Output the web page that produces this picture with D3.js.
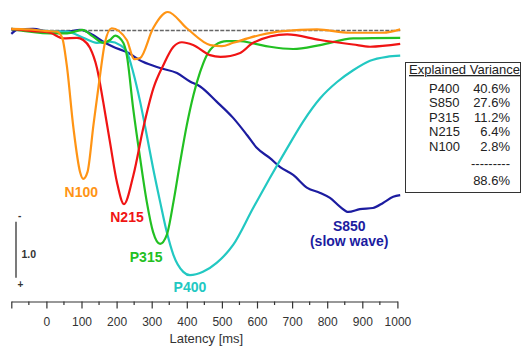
<!DOCTYPE html>
<html>
<head>
<meta charset="utf-8">
<script src="https://cdn.jsdelivr.net/npm/d3@7/dist/d3.min.js"></script>
<style>
  body { margin: 0; background: #fff; }
  svg { display: block; font-family: Arial, "Liberation Sans", sans-serif; }
</style>
</head>
<body>
<div id="chart"></div>
<script>
// component waveforms, [latency ms, amplitude] (positive plotted downward)
const n100 = [[-100,-0.03],[-50,-0.02],[0,0.01],[30,0.02],[45,0.13],[58,0.62],[77,1.74],[96,2.53],[105,2.65],[117,2.53],[134,1.69],[153,0.79],[167,0.21],[186,-0.04],[229,0.17],[250,0.51],[267,0.49],[304,-0.04],[346,-0.33],[400,-0.04],[467,0.26],[500,0.28],[532,0.22],[609,0.08],[674,0.01],[771,-0.02],[865,0.04],[959,0.04],[1008,-0.02]];
const n215 = [[-100,-0.03],[-38,0.01],[10,0.04],[48,0.14],[87,0.13],[105,0.17],[124,0.31],[144,0.67],[162,1.28],[181,1.99],[201,2.71],[221,3.10],[248,2.58],[276,1.74],[305,1.03],[333,0.62],[362,0.29],[386,0.21],[418,0.26],[466,0.44],[496,0.47],[552,0.40],[589,0.22],[686,0.07],[780,0.17],[874,0.25],[922,0.29],[1008,0.24]];
const p315 = [[-100,-0.03],[10,0.05],[59,0.05],[102,-0.01],[133,0.11],[162,0.22],[181,0.17],[196,0.09],[219,0.22],[229,0.44],[247,1.38],[267,2.28],[286,3.06],[304,3.60],[324,3.81],[343,3.65],[362,3.06],[381,2.35],[400,1.69],[419,1.15],[438,0.74],[457,0.44],[481,0.26],[514,0.19],[552,0.19],[589,0.23],[637,0.29],[703,0.33],[780,0.26],[874,0.14],[1008,0.13]];
const p400 = [[-100,-0.03],[10,0.01],[59,0.02],[105,0.13],[144,0.22],[181,0.20],[210,0.26],[229,0.38],[247,0.74],[267,1.27],[286,1.87],[304,2.46],[324,3.06],[343,3.60],[362,4.01],[390,4.31],[409,4.37],[446,4.31],[485,4.15],[532,3.83],[589,3.17],[637,2.63],[686,2.10],[731,1.63],[780,1.21],[828,0.92],[874,0.71],[922,0.54],[970,0.47],[1008,0.45]];
const s850 = [[-100,0.06],[-83,-0.01],[-38,-0.03],[10,0.02],[59,0.02],[96,-0.01],[133,0.08],[162,0.20],[190,0.29],[230,0.39],[275,0.56],[324,0.67],[372,0.76],[409,0.91],[438,1.00],[485,1.27],[532,1.56],[572,1.87],[600,2.10],[637,2.28],[666,2.44],[703,2.58],[743,2.81],[780,2.90],[808,2.99],[837,3.15],[860,3.24],[893,3.19],[930,3.17],[959,3.08],[988,2.97],[1008,2.94]];

const legendNames = ["P400", "S850", "P315", "N215", "N100"];
const legendValues = ["40.6%", "27.6%", "11.2%", "6.4%", "2.8%"];
const legendTotal = "88.6%";
const majorTicks = [-100, 0, 100, 200, 300, 400, 500, 600, 700, 800, 900, 1000];
const minorTicks = [-50, 50, 150, 250, 350, 450, 550, 650, 750, 850, 950];

const width = 522, height = 349;

const svg = d3.select("#chart")
  .append("svg")
  .attr("width", width)
  .attr("height", height);

const x = d3.scaleLinear().domain([-100, 1000]).range([11.3, 397.4]);
const y = d3.scaleLinear().domain([0, 1]).range([30.5, 86.5]);

// zero line
svg.append("line")
  .attr("x1", x(-100)).attr("x2", x(1008))
  .attr("y1", y(0)).attr("y2", y(0))
  .attr("stroke", "#666")
  .attr("stroke-width", 1.3)
  .attr("stroke-dasharray", "4,1.5");

const series = [
  { data: s850, color: "#1c1ca0", label: ["S850", "(slow wave)"], dx: 1, dy: 19 },
  { data: p400, color: "#22c8c2", label: ["P400"], dx: 0, dy: 17 },
  { data: p315, color: "#22c022", label: ["P315"], dx: -14, dy: 18 },
  { data: n215, color: "#f01414", label: ["N215"], dx: 3, dy: 18 },
  { data: n100, color: "#ff9414", label: ["N100"], dx: -2, dy: 18 }
];

const line = d3.line()
  .x(d => x(d[0]))
  .y(d => y(d[1]))
  .curve(d3.curveMonotoneX);

series.forEach(s => {
  svg.append("path")
    .attr("d", line(s.data))
    .attr("fill", "none")
    .attr("stroke", s.color)
    .attr("stroke-width", 2.2)
    .attr("stroke-linejoin", "round");

  // label sits under the trough of each component
  const peak = d3.greatest(s.data, d => d[1]);
  s.label.forEach((t, i) => {
    svg.append("text")
      .attr("x", x(peak[0]) + s.dx)
      .attr("y", y(peak[1]) + s.dy + i * 15)
      .attr("text-anchor", "middle")
      .attr("font-size", 14)
      .attr("font-weight", "bold")
      .attr("fill", s.color)
      .text(t);
  });
});

// x axis
const axisY = 301.5;
const axis = svg.append("g")
  .attr("transform", "translate(0," + axisY + ")")
  .call(d3.axisBottom(x)
    .tickValues(majorTicks)
    .tickSize(7)
    .tickSizeOuter(0)
    .tickFormat(d => d < 0 ? "" : d));
axis.select(".domain").attr("stroke", "#333").attr("stroke-width", 1.2);
axis.selectAll(".tick line").attr("stroke", "#333").attr("stroke-width", 1.2);
axis.selectAll(".tick text")
  .attr("y", 16)
  .attr("font-size", 12)
  .attr("font-family", "Arial, 'Liberation Sans', sans-serif")
  .attr("fill", "#333");

svg.append("g")
  .selectAll("line")
  .data(minorTicks)
  .enter()
  .append("line")
  .attr("x1", d => x(d)).attr("x2", d => x(d))
  .attr("y1", axisY).attr("y2", axisY + 3.5)
  .attr("stroke", "#333")
  .attr("stroke-width", 1.2);

svg.append("text")
  .attr("x", (x(-100) + x(1000)) / 2 + 2)
  .attr("y", 343)
  .attr("text-anchor", "middle")
  .attr("font-size", 13)
  .attr("fill", "#333")
  .text("Latency [ms]");

// amplitude scale bar
const barTop = 221.7;
svg.append("line")
  .attr("x1", 16).attr("x2", 16)
  .attr("y1", barTop).attr("y2", barTop + y(1) - y(0))
  .attr("stroke", "#333")
  .attr("stroke-width", 1.3);
svg.append("text").attr("x", 18).attr("y", 219).attr("font-size", 10).attr("font-weight", "bold").attr("fill", "#333").text("-");
svg.append("text").attr("x", 17.5).attr("y", 288).attr("font-size", 10).attr("font-weight", "bold").attr("fill", "#333").text("+");
svg.append("text").attr("x", 21.5).attr("y", 257.5).attr("font-size", 10.5).attr("font-weight", "bold").attr("fill", "#333").text("1.0");

// explained variance box
const box = svg.append("g");
box.append("rect")
  .attr("x", 405.5).attr("y", 62.5)
  .attr("width", 115).attr("height", 130)
  .attr("fill", "#fff")
  .attr("stroke", "#333");
box.append("text")
  .attr("x", 409).attr("y", 74)
  .attr("font-size", 13)
  .attr("fill", "#222")
  .attr("text-decoration", "underline")
  .text("Explained Variance");

legendNames.forEach((n, i) => {
  box.append("text")
    .attr("x", 429).attr("y", 92.5 + i * 14.6)
    .attr("font-size", 13).attr("fill", "#222")
    .text(n);
  box.append("text")
    .attr("x", 510).attr("y", 92.5 + i * 14.6)
    .attr("text-anchor", "end")
    .attr("font-size", 13).attr("fill", "#222")
    .text(legendValues[i]);
});
box.append("text")
  .attr("x", 510).attr("y", 168)
  .attr("text-anchor", "end")
  .attr("font-size", 13).attr("fill", "#222")
  .text("---------");
box.append("text")
  .attr("x", 510).attr("y", 185)
  .attr("text-anchor", "end")
  .attr("font-size", 13).attr("fill", "#222")
  .text(legendTotal);
</script>
</body>
</html>
